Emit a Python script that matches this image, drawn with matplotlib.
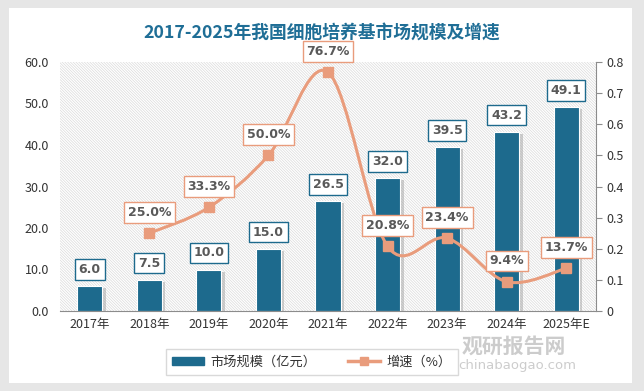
import numpy as np
import matplotlib
matplotlib.use("Agg")
import matplotlib.pyplot as plt
from matplotlib.patches import Rectangle, PathPatch
from matplotlib.path import Path
from matplotlib.lines import Line2D
import matplotlib.patheffects as pe

plt.rcParams['font.family'] = ['Noto Sans CJK SC', 'DejaVu Sans']
plt.rcParams['hatch.linewidth'] = 0.5

years = ['2017年', '2018年', '2019年', '2020年', '2021年', '2022年', '2023年', '2024年', '2025年E']
market = [6.0, 7.5, 10.0, 15.0, 26.5, 32.0, 39.5, 43.2, 49.1]
growth = [0.25, 0.333, 0.50, 0.767, 0.208, 0.234, 0.094, 0.137]
growth_labels = ['25.0%', '33.3%', '50.0%', '76.7%', '20.8%', '23.4%', '9.4%', '13.7%']

bar_color = '#1d6a8d'
line_color = '#e99c7c'
text_grey = '#595959'


def smooth_path(xs, ys):
    # Catmull-Rom through the data points, drawn as cubic Bezier segments
    pts = np.column_stack([xs, ys]).astype(float)
    verts = [pts[0]]
    codes = [Path.MOVETO]
    for i in range(len(pts) - 1):
        p0 = pts[i - 1] if i > 0 else pts[i]
        p1, p2 = pts[i], pts[i + 1]
        p3 = pts[i + 2] if i + 2 < len(pts) else pts[i + 1]
        c1 = p1 + (p2 - p0) / 6
        c2 = p2 - (p3 - p1) / 6
        verts += [c1, c2, p2]
        codes += [Path.CURVE4] * 3
    return Path(verts, codes)


fig = plt.figure(figsize=(6.44, 3.91), dpi=100)
fig.patch.set_facecolor('#e6e6e6')
fig.patches.append(Rectangle((9 / 644, 8 / 391), 623 / 644, 375 / 391, transform=fig.transFigure,
                             facecolor='white', edgecolor='none', zorder=-10))

ax = fig.add_axes([60 / 644, 1 - 311 / 391, 536 / 644, 249 / 391])
ax2 = ax.twinx()
ax.set_facecolor('none')
ax2.set_facecolor('none')

x = np.arange(len(years))
ax.set_xlim(-0.5, len(years) - 0.5)
ax.set_ylim(0, 60)
ax2.set_ylim(0, 0.8)

# hatched plot background
ax.add_patch(Rectangle((0, 0), 1, 1, transform=ax.transAxes, facecolor='white',
                       edgecolor='#dadada', hatch='\\' * 12, linewidth=0, zorder=0))

bars = ax.bar(x, market, width=0.42, color=bar_color, edgecolor='white', linewidth=0.8, zorder=2,
              path_effects=[pe.SimplePatchShadow(offset=(2.5, -1.5), shadow_rgbFace='#9a9a9a', alpha=0.45),
                            pe.Normal()])

for xi, v in zip(x, market):
    ax.annotate(f'{v:.1f}', (xi, v), xytext=(0, 12), textcoords='offset points', ha='center', va='center',
                fontsize=9, fontweight='bold', color=text_grey, family='DejaVu Sans', zorder=5,
                bbox=dict(boxstyle='square,pad=0.3', facecolor='white', edgecolor=bar_color, linewidth=1))

gx = x[1:]
ax2.add_patch(PathPatch(smooth_path(gx, growth), facecolor='none', edgecolor=line_color, linewidth=2.2, zorder=3))
ax2.plot(gx, growth, linestyle='none', marker='s', markersize=6.5, color=line_color, zorder=4)
for xi, v, lab in zip(gx, growth, growth_labels):
    ax2.annotate(lab, (xi, v), xytext=(0, 15), textcoords='offset points', ha='center', va='center',
                 fontsize=9, fontweight='bold', color=text_grey, family='DejaVu Sans', zorder=6,
                 bbox=dict(boxstyle='square,pad=0.3', facecolor='white', edgecolor=line_color, linewidth=1))

# axes styling
for s in ['top', 'left', 'right']:
    ax.spines[s].set_visible(False)
ax.spines['bottom'].set_color('#8c8c8c')
for s in ['top', 'left', 'bottom']:
    ax2.spines[s].set_visible(False)
ax2.spines['right'].set_color('#8c8c8c')

ax.set_yticks(np.arange(0, 61, 10))
ax.set_yticklabels([f'{v:.1f}' for v in np.arange(0, 61, 10)])
ax.tick_params(axis='y', length=0, labelsize=9, colors='#333333', pad=8)
ax.set_xticks(x)
ax.set_xticklabels(years)
ax.tick_params(axis='x', length=0, labelsize=9, colors='#333333', pad=5)

ticks2 = np.round(np.arange(0, 0.81, 0.1), 1)
ax2.set_yticks(ticks2)
ax2.set_yticklabels(['0'] + [f'{v:.1f}' for v in ticks2[1:]])
ax2.tick_params(axis='y', length=4, color='#8c8c8c', labelsize=9, labelcolor='#333333')

fig.text(0.5, 1 - 33 / 391, '2017-2025年我国细胞培养基市场规模及增速', ha='center', va='center',
         fontsize=12.8, fontweight='bold', color='#1f6e96')

handles = [Rectangle((0, 0), 1, 1, color=bar_color),
           Line2D([], [], color=line_color, linewidth=2.5, marker='s', markersize=6)]
leg = fig.legend(handles, ['市场规模（亿元）', '增速（%）'], loc='center', bbox_to_anchor=(312 / 644, 1 - 362 / 391),
                 ncol=2, fontsize=9.5, frameon=True, fancybox=False, edgecolor='#d0d0d0',
                 handlelength=2.4, handleheight=0.5, handletextpad=0.5, columnspacing=2.4, borderpad=0.5)
for t in leg.get_texts():
    t.set_color('#333333')

# watermark
fig.text(462 / 644, 1 - 346 / 391, '观研报告网', fontsize=15, fontweight='bold', color='#c4c4c4', alpha=0.85,
         va='center', zorder=20)
fig.text(458 / 644, 1 - 365 / 391, 'chinabaogao.com', fontsize=9.5, color='#c4c4c4', alpha=0.85, va='center',
         family='DejaVu Sans', zorder=20)

fig.savefig('out.png', dpi=100, facecolor=fig.get_facecolor())
